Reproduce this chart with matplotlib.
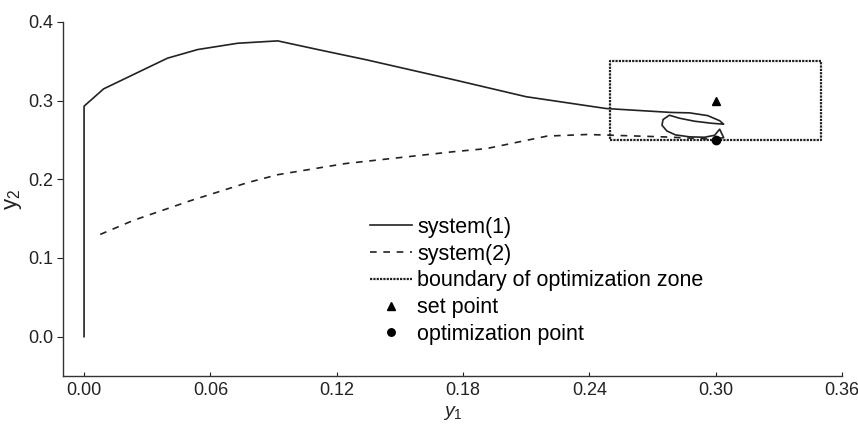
import matplotlib
matplotlib.use("Agg")
import matplotlib.pyplot as plt

plt.rcParams['font.family'] = ['Liberation Sans', 'DejaVu Sans']
plt.rcParams['mathtext.fontset'] = 'custom'
plt.rcParams['mathtext.rm'] = 'Liberation Sans'
plt.rcParams['mathtext.it'] = 'Liberation Sans:italic'

# system(1) trajectory (y1, y2)
sys1_x = [0.0, 0.0, 0.0093, 0.0396, 0.054, 0.073, 0.092, 0.111, 0.134, 0.175,
          0.21, 0.248, 0.2791, 0.2876, 0.2962, 0.3019, 0.3038, 0.2980, 0.2899,
          0.2828, 0.2780, 0.2750, 0.2745, 0.2768, 0.2809, 0.2876, 0.2947,
          0.2995, 0.3019, 0.3038, 0.2990]
sys1_y = [0.0, 0.293, 0.315, 0.354, 0.365, 0.373, 0.376, 0.365, 0.352, 0.327,
          0.305, 0.290, 0.2850, 0.2845, 0.2810, 0.2745, 0.2701, 0.2713, 0.2739,
          0.2777, 0.2815, 0.2760, 0.2688, 0.2615, 0.2565, 0.2540, 0.2535,
          0.2560, 0.2637, 0.2530, 0.2510]

# system(2) trajectory
sys2_x = [0.0077, 0.0236, 0.0507, 0.0779, 0.0922, 0.124, 0.175, 0.191, 0.22,
          0.239, 0.251, 0.275, 0.300]
sys2_y = [0.130, 0.148, 0.173, 0.196, 0.206, 0.220, 0.235, 0.239, 0.255,
          0.257, 0.256, 0.254, 0.251]

# optimization zone boundary
zone_x = [0.25, 0.35, 0.35, 0.25, 0.25]
zone_y = [0.25, 0.25, 0.35, 0.35, 0.25]

set_point = (0.30, 0.30)
opt_point = (0.30, 0.25)

x_ticks = [0.00, 0.06, 0.12, 0.18, 0.24, 0.30, 0.36]
y_ticks = [0.0, 0.1, 0.2, 0.3, 0.4]

fig = plt.figure(figsize=(8.58, 4.30), dpi=100)
ax = fig.add_axes([63 / 858, 54 / 430, 779 / 858, 354 / 430])

c = '#222222'
ax.plot(sys1_x, sys1_y, color=c, lw=1.2, label='system(1)')
ax.plot(sys2_x, sys2_y, color=c, lw=1.2, linestyle=(0, (4, 4)), label='system(2)')
ax.plot(zone_x, zone_y, color=c, lw=1.6, linestyle=(0, (1, 0.5)),
        label='boundary of optimization zone')
ax.plot(*set_point, marker='^', color='black', ms=6, linestyle='none', label='set point')
ax.plot(*opt_point, marker='o', color='black', ms=6, linestyle='none', label='optimization point')

ax.set_xlim(-0.01, 0.36)
ax.set_ylim(-0.05, 0.40)
ax.set_xticks(x_ticks)
ax.set_xticklabels([f'{v:.2f}' for v in x_ticks])
ax.set_yticks(y_ticks)
ax.set_yticklabels([f'{v:.1f}' for v in y_ticks])

for s in ['top', 'right']:
    ax.spines[s].set_visible(False)
for s in ['left', 'bottom']:
    ax.spines[s].set_color('#333333')
    ax.spines[s].set_linewidth(1.0)

ax.tick_params(axis='x', direction='in', length=3, labelsize=13, colors='#222222', pad=4)
ax.tick_params(axis='y', direction='out', length=4, labelsize=13, colors='#222222', pad=3)

ax.set_xlabel('$y_1$', fontsize=14, color='#222222', labelpad=4)
ax.set_ylabel(r'$\mathrm{y}_2$', fontsize=16, color='#222222', labelpad=3)

ax.legend(loc='upper left', bbox_to_anchor=(0.394, 0.45), frameon=False,
          fontsize=15.5, handlelength=1.95, handletextpad=0.25, borderpad=0,
          borderaxespad=0, labelspacing=0.27, numpoints=1, markerscale=0.9)

fig.savefig('out.png', dpi=100)
